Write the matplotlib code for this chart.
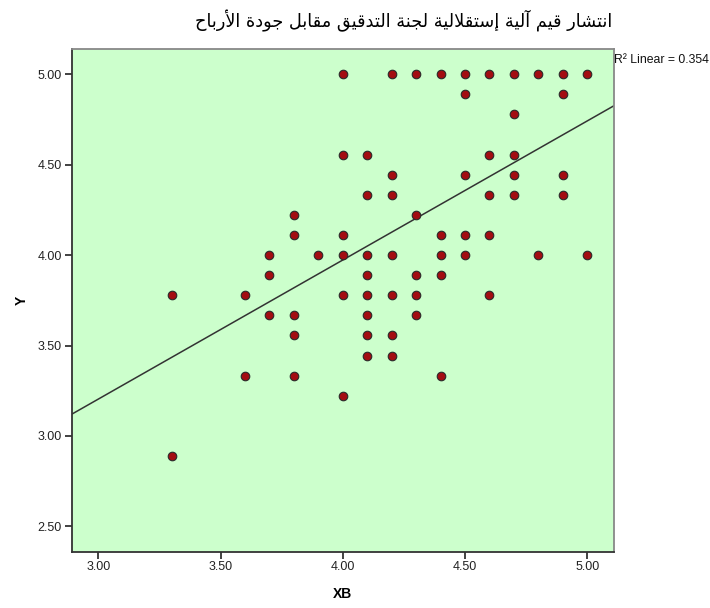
import numpy as np
import matplotlib
matplotlib.use("Agg")
import matplotlib.pyplot as plt

# ---------------- data ----------------
ninth = 1.0 / 9.0
xb_values = [3.3, 3.3,
             3.6, 3.6,
             3.7, 3.7, 3.7,
             3.8, 3.8, 3.8, 3.8, 3.8,
             3.9,
             4.0, 4.0, 4.0, 4.0, 4.0, 4.0,
             4.1, 4.1, 4.1, 4.1, 4.1, 4.1, 4.1, 4.1,
             4.2, 4.2, 4.2, 4.2, 4.2, 4.2, 4.2,
             4.3, 4.3, 4.3, 4.3, 4.3,
             4.4, 4.4, 4.4, 4.4, 4.4,
             4.5, 4.5, 4.5, 4.5, 4.5,
             4.6, 4.6, 4.6, 4.6, 4.6,
             4.7, 4.7, 4.7, 4.7, 4.7,
             4.8, 4.8,
             4.9, 4.9, 4.9, 4.9,
             5.0, 5.0]
# Y values are on a grid of ninths (e.g. 34/9 = 3.78)
y_ninths = [34, 26,
            34, 30,
            36, 35, 33,
            38, 37, 33, 32, 30,
            36,
            45, 41, 37, 36, 34, 29,
            41, 39, 36, 35, 34, 33, 32, 31,
            45, 40, 39, 36, 34, 32, 31,
            45, 38, 35, 34, 33,
            45, 37, 36, 35, 30,
            45, 44, 40, 37, 36,
            45, 41, 39, 37, 34,
            45, 43, 41, 40, 39,
            45, 36,
            45, 44, 40, 39,
            45, 36]
y_values = [v * ninth for v in y_ninths]

# linear fit line as drawn in the reference (R^2 = 0.354)
fit_intercept = 0.897
fit_slope = 0.769

x_ticks = [3.00, 3.50, 4.00, 4.50, 5.00]
y_ticks = [2.50, 3.00, 3.50, 4.00, 4.50, 5.00]
r2_label = "0.354"

title_text = "انتشار قيم آلية إستقلالية لجنة التدقيق مقابل جودة الأرباح"
x_label = "XB"
y_label = "Y"

# ---------------- minimal Arabic shaping ----------------
FORMS = {
    'ا': (0xFE8D, 0xFE8E, None, None),
    'أ': (0xFE83, 0xFE84, None, None),
    'إ': (0xFE87, 0xFE88, None, None),
    'آ': (0xFE81, 0xFE82, None, None),
    'ب': (0xFE8F, 0xFE90, 0xFE91, 0xFE92),
    'ة': (0xFE93, 0xFE94, None, None),
    'ت': (0xFE95, 0xFE96, 0xFE97, 0xFE98),
    'ج': (0xFE9D, 0xFE9E, 0xFE9F, 0xFEA0),
    'ح': (0xFEA1, 0xFEA2, 0xFEA3, 0xFEA4),
    'د': (0xFEA9, 0xFEAA, None, None),
    'ر': (0xFEAD, 0xFEAE, None, None),
    'س': (0xFEB1, 0xFEB2, 0xFEB3, 0xFEB4),
    'ش': (0xFEB5, 0xFEB6, 0xFEB7, 0xFEB8),
    'ق': (0xFED5, 0xFED6, 0xFED7, 0xFED8),
    'ل': (0xFEDD, 0xFEDE, 0xFEDF, 0xFEE0),
    'م': (0xFEE1, 0xFEE2, 0xFEE3, 0xFEE4),
    'ن': (0xFEE5, 0xFEE6, 0xFEE7, 0xFEE8),
    'و': (0xFEED, 0xFEEE, None, None),
    'ي': (0xFEF1, 0xFEF2, 0xFEF3, 0xFEF4),
}
LAM_ALEF = {'آ': (0xFEF5, 0xFEF6), 'أ': (0xFEF7, 0xFEF8),
            'إ': (0xFEF9, 0xFEFA), 'ا': (0xFEFB, 0xFEFC)}


def dual(c):
    return c in FORMS and FORMS[c][2] is not None


def shape_arabic(text):
    out = []
    i = 0
    n = len(text)
    while i < n:
        c = text[i]
        if c not in FORMS:
            out.append(c)
            i += 1
            continue
        prev = text[i - 1] if i > 0 else ''
        jp = dual(prev)
        if c == 'ل' and i + 1 < n and text[i + 1] in LAM_ALEF:
            iso, fin = LAM_ALEF[text[i + 1]]
            out.append(chr(fin if jp else iso))
            i += 2
            continue
        nxt = text[i + 1] if i + 1 < n else ''
        jn = dual(c) and nxt in FORMS
        iso, fin, ini, med = FORMS[c]
        if jp and jn:
            g = med
        elif jp:
            g = fin
        elif jn:
            g = ini
        else:
            g = iso
        out.append(chr(g))
        i += 1
    return ''.join(reversed(out))


# ---------------- figure ----------------
fig = plt.figure(figsize=(7.10, 6.08), dpi=100)
ax = fig.add_axes([0.101, 0.0926, 0.764, 0.8263])
ax.set_facecolor('#CCFFCC')

xs = np.array(xb_values)
ys = np.array(y_values)

ax.set_xlim(2.891, 5.110)
ax.set_ylim(2.360, 5.138)

lx = np.array(ax.get_xlim())
ax.plot(lx, fit_intercept + fit_slope * lx, color='#333333', lw=1.1, zorder=2)

ax.scatter(xs, ys, s=38, c='#A30D12', edgecolors='#2a2a2a', linewidths=0.8,
           zorder=3)

ax.set_xticks(x_ticks)
ax.set_yticks(y_ticks)
ax.set_xticklabels([f"{v:.2f}" for v in x_ticks])
ax.set_yticklabels([f"{v:.2f}" for v in y_ticks])
ax.tick_params(direction='out', length=5, width=1.3, color='#333333',
               labelsize=9, pad=2, labelcolor='#222222')
for lab in ax.get_xticklabels() + ax.get_yticklabels():
    lab.set_family('Liberation Sans')

for s in ('left', 'bottom'):
    ax.spines[s].set_color('#333333')
    ax.spines[s].set_linewidth(1.3)
for s in ('top', 'right'):
    ax.spines[s].set_color('#888888')
    ax.spines[s].set_linewidth(1.3)

ax.set_xlabel(x_label, fontsize=10, fontweight='bold', family='Liberation Sans',
              labelpad=10)
ax.set_ylabel(y_label, fontsize=10, fontweight='bold', family='Liberation Sans',
              labelpad=6)

fig.text(404 / 710, 1 - 21 / 608, shape_arabic(title_text), ha='center',
         va='center', fontsize=12.8, family='DejaVu Sans', color='black')

fig.text(614 / 710, 1 - 60 / 608, "R² Linear = " + r2_label, ha='left',
         va='center', fontsize=8.8, family='Liberation Sans', color='#111111')

fig.savefig('out.png', dpi=100)
